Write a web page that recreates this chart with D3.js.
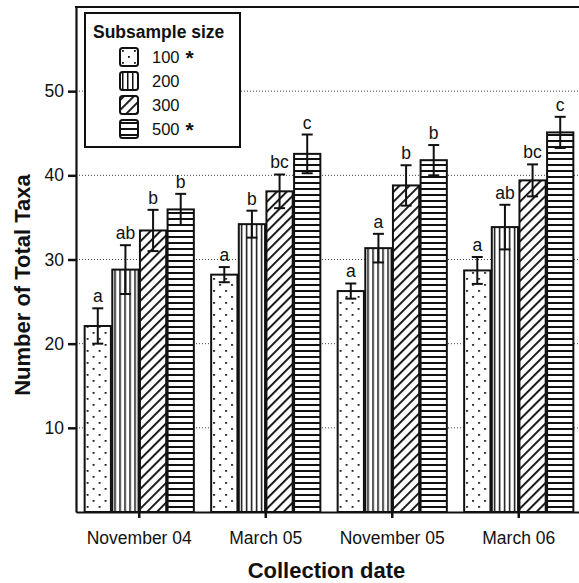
<!DOCTYPE html>
<html>
<head>
<meta charset="utf-8">
<script src="https://cdn.jsdelivr.net/npm/d3@7"></script>
<style>
  body { margin: 0; background: #fff; }
  svg { display: block; font-family: "Liberation Sans", Arial, sans-serif; }
</style>
</head>
<body>
<div id="chart"></div>
<script>
// data
var dates = ['November 04', 'March 05', 'November 05', 'March 06'];
var sizes = ['100', '200', '300', '500'];
var legendLabels = ['100', '200', '300', '500'];
var legendStars = ['*', '', '', '*'];
var yTicks = [10, 20, 30, 40, 50];

var mean100 = [22.1, 28.2, 26.25, 28.7];
var mean200 = [28.8, 34.2, 31.35, 33.85];
var mean300 = [33.45, 38.1, 38.8, 39.4];
var mean500 = [35.95, 42.55, 41.8, 45.1];

var err100 = [2.1, 0.9, 0.9, 1.6];
var err200 = [2.9, 1.6, 1.7, 2.65];
var err300 = [2.45, 2.0, 2.4, 1.9];
var err500 = [1.85, 2.3, 1.8, 1.85];

var let100 = ['a', 'a', 'a', 'a'];
var let200 = ['ab', 'b', 'a', 'ab'];
var let300 = ['b', 'bc', 'b', 'bc'];
var let500 = ['b', 'c', 'b', 'c'];

var means = [mean100, mean200, mean300, mean500];
var errs = [err100, err200, err300, err500];
var lets = [let100, let200, let300, let500];

// flatten into rows for the bars
var rows = [];
dates.forEach(function(d, i) {
    sizes.forEach(function(s, j) {
        rows.push({ date: d, size: s, j: j, mean: means[j][i], err: errs[j][i], letter: lets[j][i] });
    });
});

var width = 579, height = 583;
var plot = { left: 76, right: 583, top: 7, bottom: 512 };

var svg = d3.select('#chart').append('svg')
    .attr('width', width)
    .attr('height', height);

// hatch patterns
var defs = svg.append('defs');
var patIds = ['pDots', 'pVert', 'pDiag', 'pHorz'];

var pd = defs.append('pattern').attr('id', 'pDots')
    .attr('patternUnits', 'userSpaceOnUse').attr('width', 12).attr('height', 12);
pd.append('rect').attr('width', 12).attr('height', 12).attr('fill', '#fff');
pd.append('rect').attr('x', 2).attr('y', 2).attr('width', 1.8).attr('height', 1.8).attr('fill', '#111');
pd.append('rect').attr('x', 8).attr('y', 8).attr('width', 1.8).attr('height', 1.8).attr('fill', '#111');

var pv = defs.append('pattern').attr('id', 'pVert')
    .attr('patternUnits', 'userSpaceOnUse').attr('width', 5).attr('height', 10);
pv.append('rect').attr('width', 5).attr('height', 10).attr('fill', '#fff');
pv.append('rect').attr('x', 2).attr('width', 1.5).attr('height', 10).attr('fill', '#111');

var pg = defs.append('pattern').attr('id', 'pDiag')
    .attr('patternUnits', 'userSpaceOnUse').attr('width', 7).attr('height', 10)
    .attr('patternTransform', 'rotate(45)');
pg.append('rect').attr('width', 7).attr('height', 10).attr('fill', '#fff');
pg.append('rect').attr('x', 2).attr('width', 1.9).attr('height', 10).attr('fill', '#111');

var ph = defs.append('pattern').attr('id', 'pHorz')
    .attr('patternUnits', 'userSpaceOnUse').attr('width', 10).attr('height', 6);
ph.append('rect').attr('width', 10).attr('height', 6).attr('fill', '#fff');
ph.append('rect').attr('y', 2).attr('width', 10).attr('height', 2).attr('fill', '#111');

// scales
var x0 = d3.scaleBand()
    .domain(dates)
    .range([plot.left, plot.right - 1])
    .paddingInner(0.115)
    .paddingOuter(0.0575);

var x1 = d3.scaleBand()
    .domain(sizes)
    .range([0, x0.bandwidth()])
    .padding(0.05);

var y = d3.scaleLinear()
    .domain([0, 60])
    .range([plot.bottom, plot.top]);

// dotted gridlines
svg.append('g')
    .selectAll('line')
    .data(yTicks)
    .enter().append('line')
    .attr('x1', plot.left).attr('x2', plot.right)
    .attr('y1', d => y(d)).attr('y2', d => y(d))
    .attr('stroke', '#444')
    .attr('stroke-width', 1)
    .attr('stroke-dasharray', '1,2');

// bars
var bars = svg.append('g')
    .selectAll('g')
    .data(rows)
    .enter().append('g')
    .attr('transform', d => `translate(${x0(d.date) + x1(d.size)}, 0)`);

bars.append('rect')
    .attr('x', 0)
    .attr('y', d => y(d.mean))
    .attr('width', x1.bandwidth())
    .attr('height', d => y(0) - y(d.mean))
    .attr('fill', d => `url(#${patIds[d.j]})`)
    .attr('stroke', '#111')
    .attr('stroke-width', 2);

// error bars
var cx = x1.bandwidth() / 2;
bars.append('line')
    .attr('x1', cx).attr('x2', cx)
    .attr('y1', d => y(d.mean - d.err)).attr('y2', d => y(d.mean + d.err))
    .attr('stroke', '#111').attr('stroke-width', 2);
bars.append('line')
    .attr('x1', cx - 5.5).attr('x2', cx + 5.5)
    .attr('y1', d => y(d.mean + d.err)).attr('y2', d => y(d.mean + d.err))
    .attr('stroke', '#111').attr('stroke-width', 2);
bars.append('line')
    .attr('x1', cx - 5.5).attr('x2', cx + 5.5)
    .attr('y1', d => y(d.mean - d.err)).attr('y2', d => y(d.mean - d.err))
    .attr('stroke', '#111').attr('stroke-width', 2);

// letters
bars.append('text')
    .attr('x', cx)
    .attr('y', d => y(d.mean + d.err) - 6)
    .attr('text-anchor', 'middle')
    .style('font-size', '17.5px')
    .attr('fill', '#111')
    .text(d => d.letter);

// axes
var yAxis = svg.append('g')
    .attr('transform', `translate(${plot.left}, 0)`)
    .call(d3.axisLeft(y).tickValues(yTicks).tickSize(8).tickSizeOuter(0).tickPadding(4));

var xAxis = svg.append('g')
    .attr('transform', `translate(0, ${plot.bottom})`)
    .call(d3.axisBottom(x0).tickSize(6).tickSizeOuter(0).tickPadding(14));

[yAxis, xAxis].forEach(function(a) {
    a.select('.domain').attr('stroke', '#111').attr('stroke-width', 2.2);
    a.selectAll('.tick line').attr('stroke', '#111').attr('stroke-width', 2.5);
    a.selectAll('.tick text')
        .attr('fill', '#111')
        .style('font-family', '"Liberation Sans", Arial, sans-serif')
        .style('font-size', '17.5px');
});

// top frame
svg.append('line')
    .attr('x1', plot.left - 1).attr('x2', plot.right)
    .attr('y1', plot.top).attr('y2', plot.top)
    .attr('stroke', '#111').attr('stroke-width', 2.2);

// axis titles
svg.append('text')
    .attr('transform', `translate(${(plot.left + plot.right) / 2 - 3}, 578)`)
    .attr('text-anchor', 'middle')
    .style('font-size', '22px')
    .style('font-weight', 'bold')
    .attr('fill', '#111')
    .text('Collection date');

svg.append('text')
    .attr('transform', 'translate(30, 285) rotate(-90)')
    .attr('text-anchor', 'middle')
    .style('font-size', '22px')
    .style('font-weight', 'bold')
    .attr('fill', '#111')
    .text('Number of Total Taxa');

// legend
var legend = svg.append('g');
legend.append('rect')
    .attr('x', 85).attr('y', 13)
    .attr('width', 155).attr('height', 134)
    .attr('fill', '#fff')
    .attr('stroke', '#111')
    .attr('stroke-width', 2);

legend.append('text')
    .attr('x', 93).attr('y', 38)
    .style('font-size', '17.5px')
    .style('font-weight', 'bold')
    .attr('fill', '#111')
    .text('Subsample size');

var items = legend.selectAll('g.item')
    .data(legendLabels)
    .enter().append('g')
    .attr('class', 'item')
    .attr('transform', (d, i) => `translate(120, ${48 + i * 24})`);

items.append('rect')
    .attr('width', 18).attr('height', 18)
    .attr('rx', 2.5)
    .attr('fill', (d, i) => `url(#${patIds[i]})`)
    .attr('stroke', '#111')
    .attr('stroke-width', 2);

var labels = items.append('text')
    .attr('x', 32).attr('y', 15)
    .style('font-size', '16.5px')
    .attr('fill', '#111');
labels.append('tspan').text(d => d);
labels.append('tspan')
    .attr('dx', 6)
    .attr('dy', 2)
    .style('font-size', '21px')
    .style('font-weight', 'bold')
    .text((d, i) => legendStars[i]);
</script>
</body>
</html>
